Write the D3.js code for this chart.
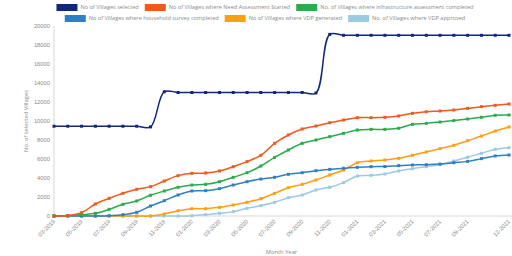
<!DOCTYPE html>
<html><head><meta charset="utf-8">
<script src="https://cdn.jsdelivr.net/npm/d3@7"></script>
<style>
html,body{margin:0;padding:0;background:#fff;}
svg{display:block;font-family:"Open Sans",sans-serif;}
</style></head>
<body><svg id="c" width="512" height="256"></svg>
<script>
const categories = ["03-2019","04-2019","05-2019","06-2019","07-2019","08-2019","09-2019","10-2019","11-2019","12-2019",
"01-2020","02-2020","03-2020","04-2020","05-2020","06-2020","07-2020","08-2020","09-2020","10-2020","11-2020","12-2020",
"01-2021","02-2021","03-2021","04-2021","05-2021","06-2021","07-2021","08-2021","09-2021","10-2021","11-2021","12-2021"];
const yTicks = [0,2000,4000,6000,8000,10000,12000,14000,16000,18000,20000];
const seriesNames = ["No of Villages selected","No of Villages where Need Assessment Started","No. of Villages where infrastructure assessment completed",
"No of Villages where household survey completed","No of Villages where VDP generated","No. of Villages where VDP approved"];
const selected = [9450,9450,9450,9450,9450,9450,9450,9380,13080,13000,13000,13000,13000,13000,13000,13000,13000,13000,13000,12950,19120,19020,19020,19020,19020,19020,19020,19020,19020,19020,19020,19020,19020,19020];
const needAssessment = [0,50,350,1260,1860,2390,2810,3090,3680,4250,4490,4530,4740,5190,5720,6390,7650,8530,9160,9470,9820,10100,10350,10350,10390,10530,10810,10980,11050,11160,11330,11510,11650,11790];
const infraAssessment = [0,30,140,280,700,1230,1580,2180,2630,3020,3260,3330,3610,4070,4560,5260,6170,6950,7650,8000,8350,8700,9050,9120,9120,9230,9650,9750,9890,10040,10210,10390,10600,10630];
const householdSurvey = [0,0,0,0,30,140,390,1050,1610,2210,2630,2670,2880,3260,3610,3890,4070,4390,4560,4770,4910,5020,5120,5190,5210,5300,5370,5400,5470,5610,5750,6040,6320,6420];
const vdpGenerated = [0,0,0,0,0,0,0,0,210,560,770,770,910,1160,1440,1820,2390,2980,3330,3790,4320,4840,5610,5790,5890,6070,6390,6740,7090,7440,7930,8420,8950,9370];
const vdpApproved = [0,0,0,0,0,0,0,0,0,0,30,140,280,460,810,1090,1440,1930,2210,2740,3020,3510,4210,4280,4420,4740,4980,5190,5400,5790,6180,6600,7020,7190];
const colors = ["#10277a","#f4581b","#2aac4c","#2f80c3","#ff9f10","#9ccae4"];
const allSeries = [selected,needAssessment,infraAssessment,householdSurvey,vdpGenerated,vdpApproved];

const svg = d3.select("#c");
const L = 54, R = 509, T = 26, B = 216;
const x = d3.scalePoint().domain(categories).range([L,R]);
const y = d3.scaleLinear().domain([0,20000]).range([B,T]);
const txt = "#8a8a8a";

svg.append("line").attr("x1",L).attr("x2",L).attr("y1",T).attr("y2",B).attr("stroke","#e4e4e4").attr("stroke-width",1.5);
svg.append("line").attr("x1",L).attr("x2",512).attr("y1",B).attr("y2",B).attr("stroke","#e4e4e4").attr("stroke-width",1.5);

const ya = svg.append("g").attr("transform",`translate(${L},0)`)
  .call(d3.axisLeft(y).tickValues(yTicks).tickSize(0).tickPadding(4).tickFormat(d3.format("d")));
ya.select(".domain").remove();
ya.selectAll("text").attr("fill",txt).attr("font-size",5.8);

const shown = categories.filter((c,i)=> i%2===0 && i<=30 || i===categories.length-1);
const xa = svg.append("g").attr("transform",`translate(0,${B})`)
  .call(d3.axisBottom(x).tickValues(shown).tickSize(0).tickPadding(0));
xa.select(".domain").remove();
xa.selectAll("text").attr("fill",txt).attr("font-size",5.8)
  .attr("text-anchor","end").attr("dy",0).attr("y",0)
  .attr("transform","translate(1,6) rotate(-45)");

svg.append("text").attr("transform",`translate(28,${(T+B)/2}) rotate(-90)`).attr("text-anchor","middle")
  .attr("fill",txt).attr("font-size",5.8).text("No. of selected Villages");
svg.append("text").attr("x",(L+R)/2).attr("y",254).attr("text-anchor","middle")
  .attr("fill",txt).attr("font-size",5.8).text("Month Year");

const line = d3.line().x((d,i)=>x(categories[i])).y(d=>y(d)).curve(d3.curveCatmullRom.alpha(0.5));
allSeries.slice().reverse().forEach((s,ri)=>{
  const k = allSeries.length-1-ri;
  const g = svg.append("g");
  g.append("path").attr("d",line(s)).attr("fill","none").attr("stroke",colors[k]).attr("stroke-width",1.5);
  g.selectAll("rect").data(s).join("rect")
    .attr("x",(d,i)=>x(categories[i])-1.5).attr("y",d=>y(d)-1.5).attr("width",3).attr("height",3)
    .attr("fill",colors[k]);
});

const rows = [[0,1,2],[3,4,5]];
const rowY = [7.5,18.5];
const fs = 5.6;
rows.forEach((r,ri)=>{
  const g = svg.append("g");
  let cx = 0;
  r.forEach(k=>{
    g.append("rect").attr("x",cx).attr("y",rowY[ri]-3.5).attr("width",21).attr("height",7).attr("fill",colors[k]);
    const t = g.append("text").attr("x",cx+24).attr("y",rowY[ri]).attr("dy","0.35em")
      .attr("fill",txt).attr("font-size",fs).text(seriesNames[k]);
    cx += 24 + t.node().getComputedTextLength() + 6;
  });
  const w = cx - 6;
  g.attr("transform",`translate(${265 - w/2},0)`);
});
</script></body></html>
